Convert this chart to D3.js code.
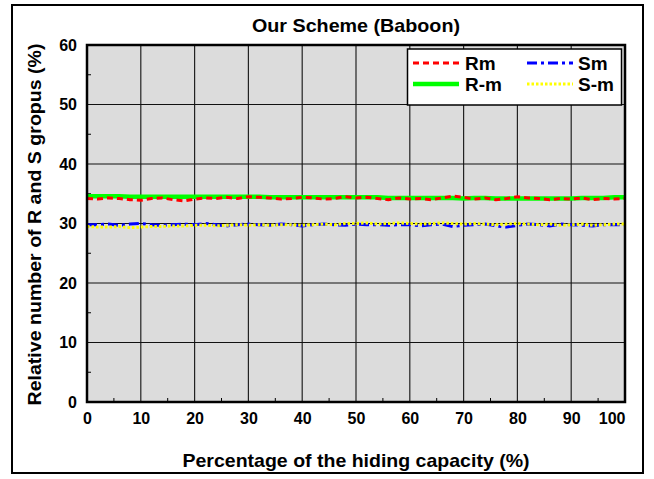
<!DOCTYPE html>
<html><head><meta charset="utf-8">
<script src="https://cdn.jsdelivr.net/npm/d3@7"></script>
<style>body{margin:0;background:#fff}svg{display:block}text{font-family:"Liberation Sans",Arial,sans-serif;font-weight:bold}</style>
</head><body>
<svg id="c" width="654" height="479"></svg>
<script>
const xs = d3.range(0, 101, 2);
const Rm  = [34.2,34.1,34.3,34.2,34.0,33.9,34.2,34.3,34.0,33.8,34.1,34.3,34.2,34.4,34.2,34.5,34.4,34.3,34.1,34.2,34.4,34.3,34.1,34.2,34.5,34.3,34.4,34.2,34.0,34.3,34.1,34.2,34.0,34.3,34.6,34.4,34.1,34.3,34.0,34.2,34.5,34.3,34.2,34.0,34.2,34.1,34.3,34.0,34.2,34.1,34.2];
const R_m = [34.6,34.6,34.6,34.6,34.5,34.5,34.5,34.5,34.5,34.5,34.5,34.5,34.5,34.5,34.5,34.5,34.5,34.4,34.4,34.4,34.4,34.4,34.4,34.4,34.4,34.4,34.4,34.4,34.3,34.3,34.3,34.3,34.3,34.3,34.3,34.2,34.3,34.3,34.2,34.2,34.2,34.2,34.2,34.2,34.2,34.2,34.3,34.3,34.3,34.4,34.4];
const Sm  = [29.8,29.8,29.9,29.7,29.9,30.0,29.8,29.7,29.8,29.9,29.8,30.0,29.8,29.6,29.8,29.9,29.8,29.7,29.9,29.8,29.6,29.8,29.9,29.8,29.7,29.9,29.8,29.8,29.7,29.8,29.8,29.6,29.8,29.9,29.5,29.7,29.8,29.9,29.6,29.4,29.7,29.9,29.8,29.6,29.9,29.8,29.7,29.6,29.8,29.8,29.8];
const S_m = [29.5,29.4,29.4,29.5,29.3,29.4,29.5,29.5,29.6,29.6,29.7,29.7,29.6,29.7,29.8,29.7,29.8,29.7,29.8,29.8,29.7,29.8,29.9,29.8,30.0,30.0,30.1,29.9,30.0,30.1,30.0,29.9,30.0,30.1,30.0,29.9,30.0,29.9,29.8,29.9,30.0,29.9,29.8,29.9,29.7,29.8,29.9,29.7,29.8,29.9,29.9];
const xTicks = d3.range(0, 101, 10);
const yTicks = d3.range(0, 61, 10);
const seriesNames = ["Rm","R-m","Sm","S-m"];

const svg = d3.select("#c");
const L=87, R=625, T=45, B=402;
const x = d3.scaleLinear().domain([0,100]).range([L,R]);
const y = d3.scaleLinear().domain([0,60]).range([B,T]);

svg.append("rect").attr("x",12).attr("y",5).attr("width",631).attr("height",468)
  .attr("fill","#fff").attr("stroke","#000").attr("stroke-width",2);
svg.append("rect").attr("x",L).attr("y",T).attr("width",R-L).attr("height",B-T).attr("fill","#dcdcdc");

svg.append("g").selectAll("line").data(xTicks.slice(1,-1)).join("line")
  .attr("x1",d=>x(d)).attr("x2",d=>x(d)).attr("y1",T).attr("y2",B).attr("stroke","#222").attr("stroke-width",1.2);
svg.append("g").selectAll("line").data(yTicks.slice(1,-1)).join("line")
  .attr("y1",d=>y(d)).attr("y2",d=>y(d)).attr("x1",L).attr("x2",R).attr("stroke","#111").attr("stroke-width",1.2);

svg.append("g").selectAll("line").data(d3.range(5,100,10)).join("line")
  .attr("x1",d=>x(d)).attr("x2",d=>x(d)).attr("y1",B).attr("y2",B-4).attr("stroke","#000");
svg.append("g").selectAll("line").data(d3.range(5,60,10)).join("line")
  .attr("y1",d=>y(d)).attr("y2",d=>y(d)).attr("x1",L).attr("x2",L+4).attr("stroke","#000");

const xa = svg.append("g").attr("transform",`translate(0,${B})`)
  .call(d3.axisBottom(x).tickValues(xTicks).tickSize(0).tickPadding(11));
const ya = svg.append("g").attr("transform",`translate(${L},0)`)
  .call(d3.axisLeft(y).tickValues(yTicks).tickSize(0).tickPadding(10));
[xa,ya].forEach(a=>{a.select(".domain").remove();a.selectAll("text").attr("font-size",16).attr("font-family","Liberation Sans, Arial, sans-serif").attr("font-weight","bold").attr("fill","#000");});
xa.selectAll(".tick").filter(d=>d===100).select("text").attr("text-anchor","end").attr("dx",0);

const line = d3.line().x((d,i)=>x(xs[i])).y(d=>y(d));
const styles = [
  {data:Rm, color:"#ff0000", w:3, dash:"6,4"},
  {data:R_m, color:"#00ff00", w:4.5, dash:null},
  {data:Sm, color:"#0000ff", w:3, dash:"10,4,3,4"},
  {data:S_m, color:"#ffff00", w:3, dash:"2.5,2"}
];
[1,0,2,3].forEach(k=>{const s=styles[k];
  svg.append("path").datum(s.data).attr("d",line).attr("fill","none")
   .attr("stroke",s.color).attr("stroke-width",s.w).attr("stroke-dasharray",s.dash);
});

svg.append("rect").attr("x",L).attr("y",T).attr("width",R-L).attr("height",B-T)
  .attr("fill","none").attr("stroke","#000").attr("stroke-width",2.5);

svg.append("rect").attr("x",407.5).attr("y",49).attr("width",214).attr("height",56)
  .attr("fill","#fff").attr("stroke","#000").attr("stroke-width",1.5);
const lpos=[[413,63],[413,84],[527,63],[527,84]];
const tpos=[465,465,578,578];
[0,1,2,3].forEach((k,i)=>{const s=styles[k];const [lx,ly]=lpos[i];
  svg.append("line").attr("x1",lx).attr("x2",lx+46).attr("y1",ly).attr("y2",ly)
   .attr("stroke",s.color).attr("stroke-width",s.w).attr("stroke-dasharray",s.dash);
  svg.append("text").attr("x",tpos[i]).attr("y",ly+7).attr("font-size",19).text(seriesNames[k]);
});

svg.append("text").attr("x",356).attr("y",32).attr("text-anchor","middle").attr("font-size",19)
  .attr("textLength",208).attr("lengthAdjust","spacingAndGlyphs").text("Our Scheme (Baboon)");
svg.append("text").attr("x",356).attr("y",467).attr("text-anchor","middle").attr("font-size",19)
  .attr("textLength",347).attr("lengthAdjust","spacingAndGlyphs").text("Percentage of the hiding capacity (%)");
svg.append("text").attr("transform",`translate(41,${(T+B)/2+1}) rotate(-90)`).attr("text-anchor","middle").attr("font-size",19)
  .attr("textLength",362).attr("lengthAdjust","spacingAndGlyphs").text("Relative number of R and S gropus (%)");
</script>
</body></html>
